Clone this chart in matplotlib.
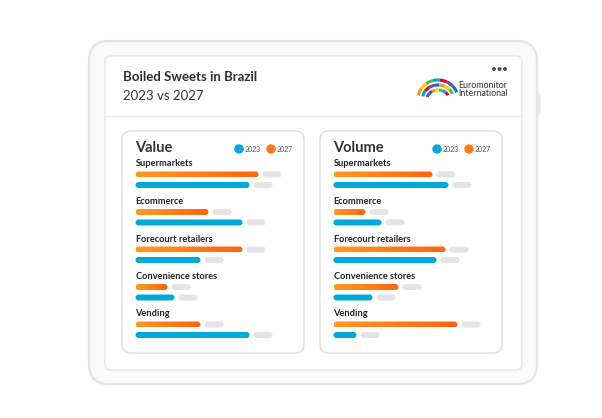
import matplotlib
matplotlib.use('Agg')
import matplotlib.pyplot as plt
from matplotlib.patches import FancyBboxPatch, Circle, Arc
from matplotlib.colors import LinearSegmentedColormap
import numpy as np

# channel data (relative index values)
channels = ['Supermarkets', 'Ecommerce', 'Forecourt retailers',
            'Convenience stores', 'Vending']
value_2027 = [123, 73, 107, 32, 65]
value_2023 = [114, 107, 65, 39, 114]
volume_2027 = [99, 32, 112, 65, 124]
volume_2023 = [115, 48, 103, 39, 23]
years = ['2023', '2027']

BLUE = '#00aad6'
GREY = '#e4e4e4'
FONT = 'Lato'
orange_cmap = LinearSegmentedColormap.from_list('org', ['#ff9a24', '#ff6410'])

fig = plt.figure(figsize=(6.02, 4.18), dpi=100)
ax = fig.add_axes([0, 0, 1, 1])
ax.set_xlim(0, 602)
ax.set_ylim(418, 0)
ax.axis('off')


def rbox(x, y, w, h, r, z=1, **kw):
    p = FancyBboxPatch((x, y), w, h, boxstyle='round,pad=0,rounding_size=%s' % r,
                       zorder=z, **kw)
    ax.add_patch(p)
    return p


# tablet frame
rbox(89, 41, 448, 343, 20, fc='#fafafa', ec='#e4e4e4', lw=1.6)
rbox(537, 93, 3, 22, 1, fc='#ececec', ec='#e0e0e0', lw=0.6)
rbox(105, 56, 417, 314, 6, fc='white', ec='#e6e6e6', lw=1.0)
ax.plot([105, 522], [116, 116], color='#e6e6e6', lw=1.0)

# header
ax.text(123, 77, 'Boiled Sweets in Brazil', fontsize=9.5, fontweight='bold',
        color='#2e2e2e', family=FONT, va='center')
ax.text(123, 96, '2023 vs 2027', fontsize=9.5, color='#333333', family=FONT, va='center')
for dx in [494, 499.5, 505]:
    ax.add_patch(Circle((dx, 69), 1.2, color='#444444', zorder=3))

# logo: coloured arched stripes
logo_cols = ['#f7941d', '#ffd200', '#5bb947', '#00a3e0', '#e4002b', '#7b3f98', '#0072bc']
n = len(logo_cols)
for k in range(n):
    t1 = 190 + k * 150 / n
    t2 = 190 + (k + 1) * 150 / n
    ax.add_patch(Arc((438, 99), 40, 38, theta1=t1, theta2=t2, color=logo_cols[k],
                     lw=2.2, zorder=3))
    ax.add_patch(Arc((438, 99), 31, 28, theta1=t1, theta2=t2,
                     color=logo_cols[(k + 3) % n], lw=2.2, zorder=3))
    ax.add_patch(Arc((438, 99), 22, 18, theta1=t1, theta2=t2,
                     color=logo_cols[(k + 5) % n], lw=2.2, zorder=3))
ax.text(458.5, 85, 'Euromonitor', fontsize=6.4, color='#333333', family=FONT, va='center')
ax.text(458.5, 93.5, 'International', fontsize=6.4, color='#333333', family=FONT, va='center')


def draw_bar(x0, yc, length, orange):
    p = rbox(x0, yc - 3, length, 6, 3, z=3, fc=BLUE if not orange else 'none', ec='none')
    if orange:
        grad = np.linspace(0, 1, 64).reshape(1, -1)
        im = ax.imshow(grad, cmap=orange_cmap, extent=[x0, x0 + length, yc + 3, yc - 3],
                       aspect='auto', interpolation='bilinear', zorder=3)
        im.set_clip_path(p)
    rbox(x0 + length + 4, yc - 3, 19, 6, 3, z=3, fc=GREY, ec='none')


panels = [('Value', 122, value_2027, value_2023),
          ('Volume', 320, volume_2027, volume_2023)]
for title, px, v27, v23 in panels:
    rbox(px, 131, 182, 222, 9, z=2, fc='white', ec='#dddddd', lw=1.0)
    bx = px + 13.5
    ax.text(bx, 148, title, fontsize=10.5, fontweight='bold', color='#333333',
            family=FONT, va='center', zorder=3)
    # legend
    for lx, col, yr in [(px + 117, BLUE, years[0]), (px + 149, '#ff7a18', years[1])]:
        ax.add_patch(Circle((lx, 149), 4, color=col, zorder=3))
        ax.text(lx + 6, 149.5, yr, fontsize=5, color='#555555', family=FONT,
                va='center', zorder=3)
    for i, ch in enumerate(channels):
        ly = 164 + i * 37.5
        ax.text(bx, ly, ch, fontsize=6.7, fontweight='bold', color='#222222',
                family=FONT, va='center', zorder=3)
        draw_bar(bx, ly + 10.5, v27[i], True)
        draw_bar(bx, ly + 21, v23[i], False)

ax.set_xlim(0, 602)
ax.set_ylim(418, 0)
fig.savefig('out.png', dpi=100, facecolor='white')
